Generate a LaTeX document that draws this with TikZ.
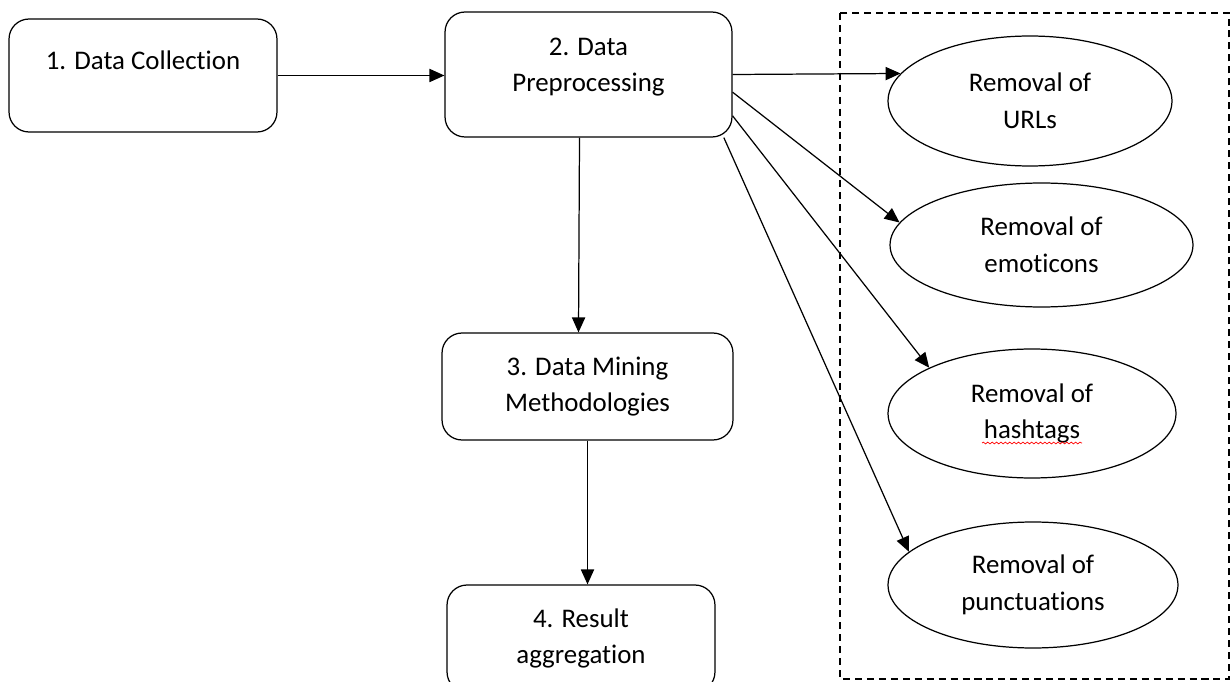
\documentclass[tikz,border=0pt]{standalone}
\usepackage{fontspec}
\setmainfont{Carlito}[Ligatures=NoCommon]
\usetikzlibrary{arrows.meta,shapes.geometric,decorations.pathmorphing}

\tikzset{
	stage/.style={draw, rounded corners=0.4cm, align=center, font=\fontsize{15.3}{20.5}\selectfont},
	removal/.style={draw, ellipse, inner sep=0pt, align=center, font=\fontsize{15.3}{21}\selectfont}
}

\begin{document}
\begin{tikzpicture}[x=0.02cm, y=-0.02cm, line width=0.7pt, >={Triangle[length=8.5pt,width=7.5pt]}]
	\useasboundingbox (0,0) rectangle (1231,682);
	\clip (0,0) rectangle (1231,682);
	\node[stage, minimum width=5.36cm, minimum height=2.26cm, text depth=17.5pt] (collect) at (143,75.5) {1. Data Collection};
	\node[stage, minimum width=5.74cm, minimum height=2.5cm, text depth=11.5pt] (prep) at (588.5,74.5) {2. Data\\Preprocessing};
	\node[stage, minimum width=5.82cm, minimum height=2.14cm] (mining) at (587.5,386.5) {3. Data Mining\\Methodologies};
	\node[stage, minimum width=5.36cm, minimum height=2.14cm] (result) at (581,638.5) {4. Result\\aggregation};
	\draw [line width=0.9pt, dash pattern=on 4pt off 2.8pt] (840,13) rectangle (1229,679);
	\node[removal, minimum width=5.68cm, minimum height=2.6cm] (urls) at (1030,101) {Removal of\\URLs};
	\node[removal, minimum width=6.06cm, minimum height=2.48cm] (emoticons) at (1041.5,245) {Removal of\\emoticons};
	\node[removal, minimum width=5.76cm, minimum height=2.58cm] (hashtags) at (1032,413.5) {Removal of\\hashtags};
	\node[removal, minimum width=5.8cm, minimum height=2.52cm] (punct) at (1033,585) {Removal of\\punctuations};
	\draw [red, line width=0.4pt, decorate, decoration={snake, amplitude=0.5pt, segment length=2.5pt}] (982,443) -- (1082,443);
	\draw [->](collect.east) -- (collect.east -| prep.west);
	\draw [->]([xshift=-0.18cm]prep.south) -- ([xshift=-0.18cm]mining.north);
	\draw [->](mining.south) -- (mining.south |- result.north);
	\draw [->](prep.east) -- (urls.168);
	\draw [->](prep.-7) -- (emoticons.171);
	\draw [->](prep.-16) -- (hashtags.156);
	\draw [->](prep.-25) -- (punct.165);
\end{tikzpicture}
\end{document}
